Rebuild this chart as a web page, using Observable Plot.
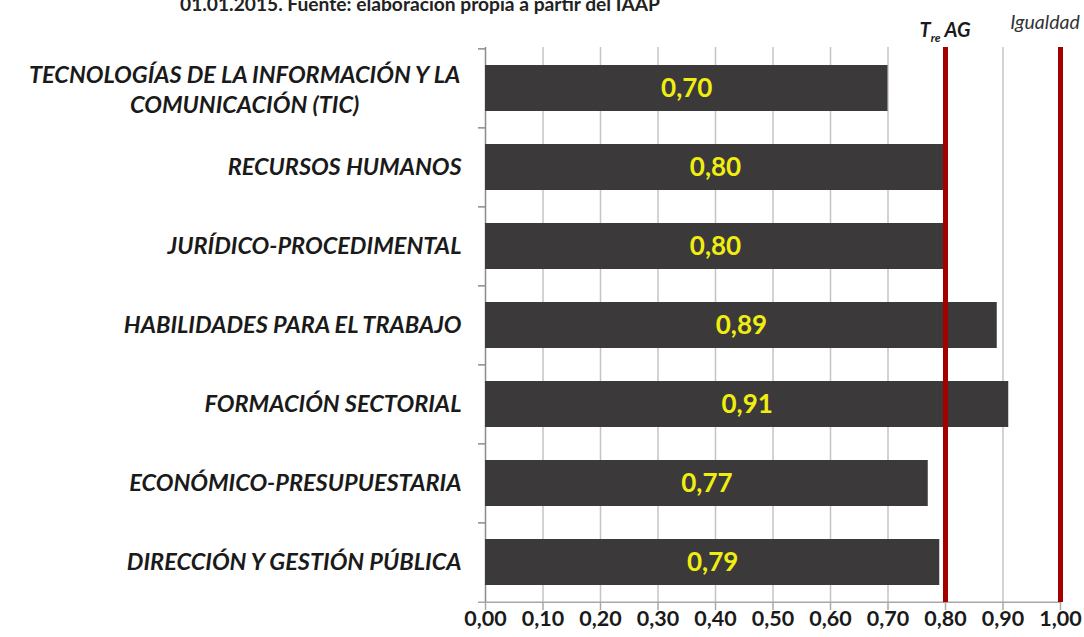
<!DOCTYPE html>
<html><head><meta charset="utf-8">
<script src="https://cdn.jsdelivr.net/npm/d3@7"></script>
<script src="https://cdn.jsdelivr.net/npm/@observablehq/plot@0.6"></script>
<style>
body{margin:0;background:#fff;overflow:hidden;}
#wrap{position:relative;width:1084px;height:637px;}
#title{position:absolute;left:180px;top:-6px;font:bold 19.2px/19px Lato, sans-serif;color:#222;white-space:nowrap;}
</style></head>
<body><div id="wrap"><div id="title">01.01.2015. Fuente: elaboración propia a partir del IAAP</div></div>
<script>
const categories = [
  "TECNOLOGÍAS DE LA INFORMACIÓN Y LA\nCOMUNICACIÓN (TIC)",
  "RECURSOS HUMANOS",
  "JURÍDICO-PROCEDIMENTAL",
  "HABILIDADES PARA EL TRABAJO",
  "FORMACIÓN SECTORIAL",
  "ECONÓMICO-PRESUPUESTARIA",
  "DIRECCIÓN Y GESTIÓN PÚBLICA"
];
const values = [0.70, 0.80, 0.80, 0.89, 0.91, 0.77, 0.79];
const xTicks = [0, 0.1, 0.2, 0.3, 0.4, 0.5, 0.6, 0.7, 0.8, 0.9, 1.0];
const refValues = [0.80, 1.00];
const refLabels = ["T|re|AG", "Igualdad"];

const data = categories.map((c, i) => ({cat: c, value: values[i]}));
const fmt = d => d.toFixed(2).replace(".", ",");

const W = 1084, H = 637, mT = 47, mB = 35, mL = 485, mR = 24;
const step = (H - mT - mB) / categories.length;

const labSize = 23.5;
const cv = document.createElement("canvas").getContext("2d");
cv.font = `italic bold ${labSize}px Lato`;
const multi = data.filter(d => d.cat.includes("\n"));
const single = data.filter(d => !d.cat.includes("\n"));

const plot = Plot.plot({
  width: W, height: H,
  marginTop: mT, marginBottom: mB, marginLeft: mL, marginRight: mR,
  style: {fontFamily: "Lato, sans-serif", background: "white", overflow: "visible"},
  x: {domain: [0, 1], label: null},
  y: {domain: categories, paddingInner: 0.42, paddingOuter: 0.21, label: null, axis: null},
  marks: [
    Plot.ruleX(xTicks.slice(1), {stroke: "#c4c4c4", strokeWidth: 1.5}),
    Plot.axisX({ticks: xTicks, tickFormat: () => "", tickSize: 8, stroke: "#a8a8a8", strokeWidth: 1.5, label: null}),
    Plot.text(xTicks, {x: d => d, frameAnchor: "bottom", dy: 17, text: fmt, fontSize: 21.5,
      fontWeight: "bold", fill: "#1a1a1a", lineAnchor: "middle"}),
    Plot.ruleY(categories, {y: d => d, x1: 0, x2: 0, insetLeft: -7, dy: -step / 2, stroke: "#8c8c8c", strokeWidth: 1.5}),
    Plot.ruleY([categories[categories.length - 1]], {y: d => d, x1: 0, x2: 1, insetLeft: -7, dy: step / 2, stroke: "#a8a8a8", strokeWidth: 1.5}),
    Plot.ruleX([0], {stroke: "#8c8c8c", strokeWidth: 1.5}),
    Plot.barX(data, {x: "value", y: "cat", fill: "#3b3939"}),
    Plot.ruleX(refValues, {stroke: "#a30000", strokeWidth: 5}),
    Plot.text(data, {x: d => d.value / 2, y: "cat", text: d => fmt(d.value), fill: "#f0ee10",
      fontSize: 26, fontWeight: "bold"}),
    Plot.text(single, {x: 0, y: "cat", text: "cat", textAnchor: "end", dx: -24,
      fontSize: labSize, fontWeight: "bold", fontStyle: "italic", fill: "#1a1a1a"}),
    Plot.text(multi, {x: 0, y: "cat", text: "cat", textAnchor: "middle",
      dx: -24 - Math.max(...multi[0].cat.split("\n").map(s => cv.measureText(s).width)) / 2,
      lineHeight: 1.25, fontSize: labSize, fontWeight: "bold", fontStyle: "italic", fill: "#1a1a1a"})
  ]
});
document.getElementById("wrap").appendChild(plot);

const svg = d3.select(plot);
// reference labels above red lines
const sx = plot.scale("x");
const t1 = svg.append("text").attr("x", sx.apply(refValues[0])).attr("y", 37)
  .attr("text-anchor", "middle").attr("font-family", "Lato, sans-serif")
  .attr("font-weight", "bold").attr("font-style", "italic").attr("font-size", 20).attr("fill", "#1a1a1a");
const parts = refLabels[0].split("|");
t1.append("tspan").text(parts[0]);
t1.append("tspan").text(parts[1]).attr("font-size", 12).attr("dy", 5);
t1.append("tspan").text(" " + parts[2]).attr("dy", -5);
svg.append("text").attr("x", sx.apply(refValues[1]) - 15).attr("y", 29)
  .attr("text-anchor", "middle").attr("font-family", "Lato, sans-serif")
  .attr("font-style", "italic").attr("font-size", 19.5).attr("fill", "#333").text(refLabels[1]);
</script></body></html>
